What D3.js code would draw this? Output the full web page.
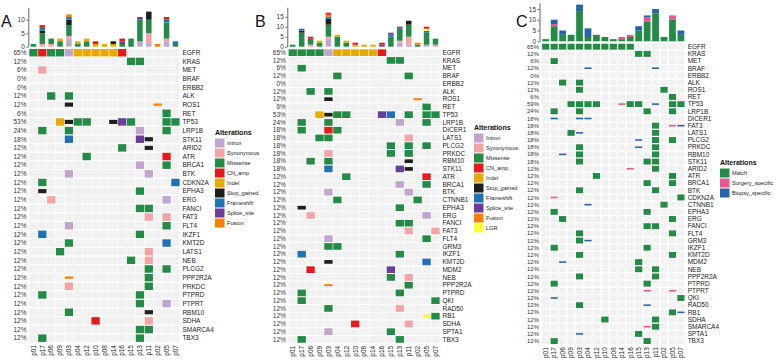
<!DOCTYPE html>
<html>
<head>
<meta charset="utf-8">
<script src="https://cdn.jsdelivr.net/npm/d3@7"></script>
<style>
  body { margin: 0; background: #fff; }
  svg { font-family: "Liberation Sans", Arial, sans-serif; }
</style>
</head>
<body>
<svg id="chart" width="777" height="360"></svg>
<script>
// sample order, same for the three panels
const samples = ["p01","p17","p06","p09","p03","p04","p12","p10","p08","p14","p16","p15","p13","p11","p02","p05","p07"];

// one letter per sample (column), "." = no alteration
const codesMut = {I:"Intron", S:"Synonymous", M:"Missense", A:"CN_amp", D:"Indel", X:"Stop_gained",
                  F:"Frameshift", P:"Splice_site", U:"Fusion", L:"LGR"};
const codesCmp = {M:"Match", s:"Surgery_specific", b:"Biopsy_specific"};

const genesA = ["EGFR","KRAS","MET","BRAF","ERBB2","ALK","ROS1","RET","TP53","LRP1B","STK11","ARID2","ATR",
  "BRCA1","BTK","CDKN2A","EPHA3","ERG","FANCI","FAT3","FLT4","IKZF1","KMT2D","LATS1","NEB","PLCG2","PPP2R2A",
  "PRKDC","PTPRD","PTPRT","RBM10","SDHA","SMARCA4","TBX3"];
const matrixA = [
  "MAMMIDDDDDA......", "...........MM....", ".S...............", ".................", ".................",
  "..M.M............", "....X.........U..", "...............M.", "...DXMM..XPM...MM", ".M..M.......I..M.",
  "....F.......PX...", "..........M..X...", "......M........A.", "............I..M.", "....I........I...",
  ".M..............F", ".X..........M....", "..S............I.", "............MM...", ".............S.S.",
  "....I..........M.", ".F..........M....", "....M..........F.", "...M.........S...", "...........M.S...",
  ".............M.M.", "....U........M...", "....S........M...", ".M..........M....", "............M..I.",
  "....M........X...", ".......A.....S...", "............MM...", ".M..........M...."
];

const genesB = ["EGFR","KRAS","MET","BRAF","ERBB2","ALK","ROS1","RET","TP53","LRP1B","DICER1","LATS1","PLCG2",
  "PRKDC","RBM10","STK11","ATR","BRCA1","BTK","CTNNB1","EPHA3","ERG","FANCI","FAT3","FLT4","GRM3","IKZF1",
  "KMT2D","MDM2","NEB","PPP2R2A","PTPRD","QKI","RAD50","RB1","SDHA","SPTA1","TBX3"];
const matrixB = [
  "MMMMIDDDDDA......", "...........MM....", ".M...............", ".....M.......M...", ".................",
  "..M.M............", "....X.........U..", "...............M.", "...DXMM...PF.M.MM", ".M..M.......I..M.",
  ".M..AM...........", "...MM........S...", "...........M.M.M.", "....S......M.M...", "..M.M........X...",
  "....F.......PX...", "......M........A.", "............I..M.", "....I........I...", ".....M........M..",
  ".X..........M....", "..S............I.", "............MM...", ".............S..S", "....I..........M.",
  "....MM...........", ".F..........M....", "....X..........F.", "..A........P.....", "...........M.S...",
  "....U........M...", ".M..........M....", ".M..............M", "....M.......S....", "...............LM",
  ".......A.....S...", "....I......M.....", ".M..........M...."
];

const genesC = ["EGFR","KRAS","MET","BRAF","ERBB2","ALK","ROS1","RET","TP53","LRP1B","DICER1","FAT3","LATS1",
  "PLCG2","PRKDC","RBM10","STK11","ARID2","ATR","BRCA1","BTK","CDKN2A","CTNNB1","EPHA3","ERG","FANCI","FLT4",
  "GRM3","IKZF1","KMT2D","MDM2","NEB","PPP2R2A","PTPRD","PTPRT","QKI","RAD50","RB1","SDHA","SMARCA4","SPTA1","TBX3"];
const matrixC = [
  "MMMMMMMMMMM......", "...........MM....", ".M...............", ".....b.......b...", ".................",
  "..M.M............", "....M.........M..", "...............M.", "...MMMM..sMM.b.MM", ".M..M.......M..M.",
  ".b..bb...........", ".............M.sb", "...Mb........M...", "...........b.M.M.", "....M......b.M...",
  "..b.M........M...", "....M.......MM...", "..........s..M...", "......M........M.", "............M..M.",
  "....M........M...", ".s..............M", ".....b........M..", ".M..........M....", "..M............M.",
  "............MM...", "....M..........M.", "....Mb...........", ".M..........M....", "....M..........M.",
  "..b........M.....", "...........M.M...", "....M........M...", ".M..........M....", "............s..s.",
  ".b..............M", "....M.......b....", "...............Mb", ".......M.....M...", "............sM...",
  "....b......M.....", ".M..........M...."
];

const legendA = ["Intron","Synonymous","Missense","CN_amp","Indel","Stop_gained","Frameshift","Splice_site","Fusion"];
const legendB = ["Intron","Synonymous","Missense","CN_amp","Indel","Stop_gained","Frameshift","Splice_site","Fusion","LGR"];
const legendC = ["Match","Surgery_specific","Biopsy_specific"];

// bottom -> top order in the stacked count bars
const stackMut = ["Intron","Synonymous","Missense","Indel","Stop_gained","Frameshift","Splice_site","Fusion","LGR","CN_amp"];
const stackCmp = ["Match","Surgery_specific","Biopsy_specific"];

const colors = {
  Intron: "#C2A5CF", Synonymous: "#F4A3A6", Missense: "#238B45", CN_amp: "#E41A1C", Indel: "#E6AB02",
  Stop_gained: "#1E1E1E", Frameshift: "#2171B5", Splice_site: "#6A3D9A", Fusion: "#FF7F00", LGR: "#FFFF33",
  Match: "#238B45", Surgery_specific: "#E7588E", Biopsy_specific: "#2862A8"
};
// share of the cell height that each alteration fills
const heightFrac = { Stop_gained: 0.55, Fusion: 0.3, LGR: 0.45, Surgery_specific: 0.26, Biopsy_specific: 0.26 };

const panels = [
  { letter: "A", letterX: 1, genes: genesA, rows: matrixA, codes: codesMut, legend: legendA, stack: stackMut,
    x0: 29, colW: 8.875, top: 48.4, rowH: 8.65, cellW: 0.93, cellH: 0.86, barW: 0.62, pctFont: 6.5,
    barBase: 46.7, barTop: 7.3, barMax: 14.6, ticks: [0, 5, 10], axisX: 28.3, legendX: 215 },
  { letter: "B", letterX: 255, genes: genesB, rows: matrixB, codes: codesMut, legend: legendB, stack: stackMut,
    x0: 288.3, colW: 8.92, top: 48.8, rowH: 7.75, cellW: 0.93, cellH: 0.86, barW: 0.62, pctFont: 6.5,
    barBase: 46.7, barTop: 7.3, barMax: 19.7, ticks: [0, 5, 10, 15], axisX: 287.3, legendX: 474 },
  { letter: "C", letterX: 516, genes: genesC, rows: matrixC, codes: codesCmp, legend: legendC, stack: stackCmp,
    x0: 541.5, colW: 8.45, top: 43.1, rowH: 7.18, cellW: 0.85, cellH: 0.82, barW: 0.8, pctFont: 6,
    barBase: 41.3, barTop: 2.7, barMax: 17.9, ticks: [0, 5, 10, 15], axisX: 539.5, legendX: 720 }
];

const svg = d3.select("#chart");

function drawPanel(p) {
  const g = svg.append("g");
  const x = d3.scaleBand().domain(samples).range([p.x0, p.x0 + samples.length * p.colW]);
  const y = d3.scaleBand().domain(p.genes).range([p.top, p.top + p.genes.length * p.rowH]);
  const cw = x.bandwidth() * p.cellW;
  const ch = y.bandwidth() * p.cellH;

  const cells = [];
  p.genes.forEach((gene, gi) => {
    samples.forEach((s, si) => {
      const c = p.rows[gi][si];
      if (c && c !== ".") cells.push({ gene: gene, sample: s, type: p.codes[c] });
    });
  });

  // grey background of the matrix
  g.append("g").selectAll("rect")
    .data(d3.cross(p.genes, samples))
    .join("rect")
    .attr("x", d => x(d[1]) + (x.bandwidth() - cw) / 2)
    .attr("y", d => y(d[0]) + (y.bandwidth() - ch) / 2)
    .attr("width", cw)
    .attr("height", ch)
    .attr("fill", "#F1F1F1");

  // alterations
  g.append("g").selectAll("rect")
    .data(cells)
    .join("rect")
    .attr("x", d => x(d.sample) + (x.bandwidth() - cw) / 2)
    .attr("y", d => y(d.gene) + (y.bandwidth() - ch * (heightFrac[d.type] || 1)) / 2)
    .attr("width", cw)
    .attr("height", d => ch * (heightFrac[d.type] || 1))
    .attr("fill", d => colors[d.type]);

  // percentages on the left
  g.append("g").selectAll("text")
    .data(p.genes)
    .join("text")
    .attr("x", p.x0 - 2.5)
    .attr("y", d => y(d) + y.bandwidth() / 2)
    .attr("dy", "0.35em")
    .attr("text-anchor", "end")
    .attr("font-size", p.pctFont)
    .attr("fill", "#333")
    .text(d => Math.round(cells.filter(c => c.gene === d).length / samples.length * 100) + "%");

  // gene names on the right
  g.append("g").selectAll("text")
    .data(p.genes)
    .join("text")
    .attr("x", p.x0 + samples.length * p.colW + 2.5)
    .attr("y", d => y(d) + y.bandwidth() / 2)
    .attr("dy", "0.35em")
    .attr("font-size", 6.5)
    .attr("fill", "#1a1a1a")
    .text(d => d);

  // sample names under the matrix
  const bottom = p.top + p.genes.length * p.rowH;
  g.append("g").selectAll("text")
    .data(samples)
    .join("text")
    .attr("transform", d => `translate(${x(d) + x.bandwidth() / 2 + 2.3},${bottom + 2.5}) rotate(-90)`)
    .attr("text-anchor", "end")
    .attr("font-size", 6.5)
    .attr("fill", "#1a1a1a")
    .text(d => d);

  // stacked count bars on top
  const counts = samples.map(s => {
    const o = { sample: s };
    p.stack.forEach(t => o[t] = 0);
    cells.filter(c => c.sample === s).forEach(c => o[c.type]++);
    return o;
  });
  const series = d3.stack().keys(p.stack)(counts);
  const yb = d3.scaleLinear().domain([0, p.barMax]).range([p.barBase, p.barTop]);
  const bw = x.bandwidth() * p.barW;

  g.append("g").selectAll("g")
    .data(series)
    .join("g")
    .attr("fill", d => colors[d.key])
    .selectAll("rect")
    .data(d => d.filter(v => v[1] > v[0]))
    .join("rect")
    .attr("x", d => x(d.data.sample) + (x.bandwidth() - bw) / 2)
    .attr("y", d => yb(d[1]))
    .attr("width", bw)
    .attr("height", d => yb(d[0]) - yb(d[1]));

  const ax = g.append("g")
    .attr("transform", `translate(${p.axisX},0)`)
    .call(d3.axisLeft(yb).tickValues(p.ticks).tickSize(2).tickSizeOuter(0).tickPadding(1.5));
  ax.selectAll("text").attr("font-size", 6.5).attr("fill", "#333").attr("font-family", "Liberation Sans, Arial, sans-serif");
  ax.selectAll("line").attr("stroke", "#666");
  ax.select(".domain").attr("stroke", "#666");

  // panel letter
  svg.append("text")
    .attr("x", p.letterX)
    .attr("y", 27)
    .attr("font-size", 16)
    .attr("fill", "#111")
    .text(p.letter);

  // legend, centred around y = 178
  const step = 10;
  const ly = 178 - (p.legend.length + 1) * step / 2;
  const lg = g.append("g").attr("transform", `translate(${p.legendX},${ly})`);
  lg.append("text")
    .attr("x", 0)
    .attr("y", step / 2)
    .attr("dy", "0.35em")
    .attr("font-size", 7)
    .attr("font-weight", "bold")
    .attr("fill", "#111")
    .text("Alterations");
  const items = lg.selectAll("g.item")
    .data(p.legend)
    .join("g")
    .attr("class", "item")
    .attr("transform", (d, i) => `translate(0,${(i + 1) * step})`);
  items.append("rect")
    .attr("x", 0)
    .attr("y", 0.5)
    .attr("width", 9.5)
    .attr("height", 9)
    .attr("fill", d => colors[d]);
  items.append("text")
    .attr("x", 12)
    .attr("y", step / 2)
    .attr("dy", "0.35em")
    .attr("font-size", 5.6)
    .attr("fill", "#222")
    .text(d => d);
}

panels.forEach(drawPanel);
</script>
</body>
</html>
